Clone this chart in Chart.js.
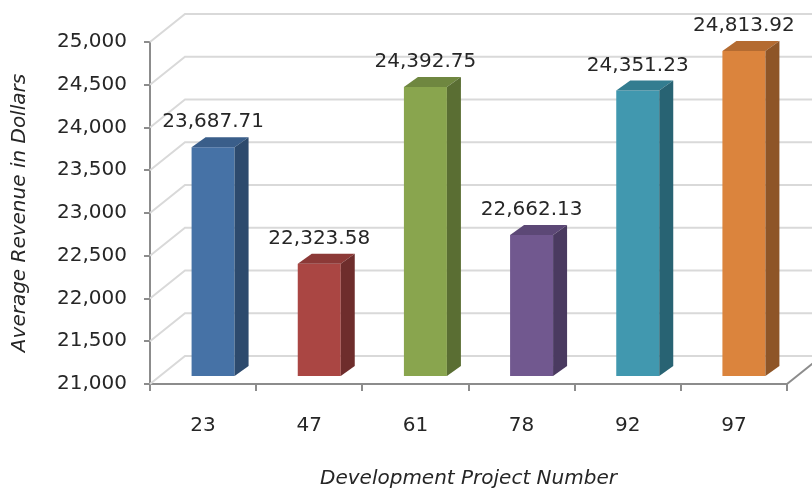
<!DOCTYPE html>
<html>
<head>
<meta charset="utf-8">
<script src="https://cdn.jsdelivr.net/npm/chart.js@4/dist/chart.umd.min.js"></script>
<style>
  html, body { margin: 0; padding: 0; background: #ffffff; }
  #c { display: block; }
</style>
</head>
<body>
<canvas id="c" width="812" height="489"></canvas>
<script>
// Development projects and their average revenue
const projects = ['23', '47', '61', '78', '92', '97'];
const avgRevenue = [23687.71, 22323.58, 24392.75, 22662.13, 24351.23, 24813.92];
const yMin = 21000;
const yMax = 25000;
const yStep = 500;

// Face colours for each bar: front, top, side
const frontColors = ['#4672A6', '#AA4643', '#89A54E', '#71588F', '#4198AF', '#DB843D'];
const topColors   = ['#3A5E8A', '#8C3937', '#6F8740', '#5C4876', '#337D90', '#B46B31'];
const sideColors  = ['#2D4A6D', '#6E2D2C', '#5A6E33', '#4A3A60', '#286373', '#8E5527'];

// 3D geometry
const WALL_DX = 35, WALL_DY = 28;        // depth of the back wall
const BAR_SHIFT_X = 10, BAR_SHIFT_Y = 7; // bars sit part-way into the depth
const BAR_DX = 14, BAR_DY = 10;          // bar depth

const FONT = "'DejaVu Sans', sans-serif";
const TEXT = '#262626';
const fmtTick = v => Number(v).toLocaleString('en-US');
const fmtValue = v => v.toLocaleString('en-US', { minimumFractionDigits: 2, maximumFractionDigits: 2 });

const threeD = {
  id: 'threeD',
  beforeDatasetsDraw(chart) {
    const { ctx, chartArea: a, scales: { y } } = chart;
    ctx.save();
    // back wall gridlines with their diagonal returns to the front axis
    ctx.strokeStyle = '#D9D9D9';
    ctx.lineWidth = 2;
    y.ticks.forEach(t => {
      const py = y.getPixelForValue(t.value);
      ctx.beginPath();
      ctx.moveTo(a.left, py);
      ctx.lineTo(a.left + WALL_DX, py - WALL_DY);
      ctx.lineTo(a.right + WALL_DX, py - WALL_DY);
      ctx.stroke();
    });
    // right edge of the floor
    ctx.strokeStyle = '#8C8C8C';
    ctx.beginPath();
    ctx.moveTo(a.right, a.bottom);
    ctx.lineTo(a.right + WALL_DX, a.bottom - WALL_DY);
    ctx.stroke();
    ctx.restore();
    // bars are drawn set back into the depth
    ctx.save();
    ctx.translate(BAR_SHIFT_X, -BAR_SHIFT_Y);
  },
  afterDatasetsDraw(chart) {
    const { ctx } = chart;
    const meta = chart.getDatasetMeta(0);
    meta.data.forEach((bar, i) => {
      const { x, y, base, width } = bar.getProps(['x', 'y', 'base', 'width'], true);
      const l = x - width / 2, r = x + width / 2;
      // top face
      ctx.fillStyle = topColors[i];
      ctx.beginPath();
      ctx.moveTo(l, y);
      ctx.lineTo(r, y);
      ctx.lineTo(r + BAR_DX, y - BAR_DY);
      ctx.lineTo(l + BAR_DX, y - BAR_DY);
      ctx.closePath();
      ctx.fill();
      // side face
      ctx.fillStyle = sideColors[i];
      ctx.beginPath();
      ctx.moveTo(r, y);
      ctx.lineTo(r + BAR_DX, y - BAR_DY);
      ctx.lineTo(r + BAR_DX, base - BAR_DY);
      ctx.lineTo(r, base);
      ctx.closePath();
      ctx.fill();
    });
    ctx.restore();
    // value labels above each bar
    ctx.save();
    ctx.font = '20px ' + FONT;
    ctx.fillStyle = TEXT;
    ctx.textAlign = 'center';
    ctx.textBaseline = 'middle';
    meta.data.forEach((bar, i) => {
      const { x, y } = bar.getProps(['x', 'y'], true);
      ctx.fillText(fmtValue(avgRevenue[i]), x + BAR_SHIFT_X, y - BAR_SHIFT_Y - 25);
    });
    ctx.restore();
  }
};

new Chart(document.getElementById('c'), {
  type: 'bar',
  data: {
    labels: projects,
    datasets: [{
      data: avgRevenue,
      base: yMin,
      backgroundColor: frontColors,
      borderWidth: 0,
      categoryPercentage: 1,
      barPercentage: 0.405,
      clip: false
    }]
  },
  options: {
    responsive: false,
    devicePixelRatio: 1,
    animation: false,
    layout: { padding: { top: 42, right: 25, left: 0, bottom: 0 } },
    plugins: { legend: { display: false }, tooltip: { enabled: false } },
    scales: {
      x: {
        grid: { offset: true, drawOnChartArea: false, drawTicks: true, tickLength: 7, color: '#8C8C8C', lineWidth: 2 },
        border: { display: true, color: '#8C8C8C', width: 2 },
        ticks: { color: TEXT, font: { family: FONT, size: 20 }, padding: 23 },
        title: {
          display: true,
          text: 'Development Project Number',
          color: TEXT,
          font: { family: FONT, size: 20, style: 'italic', lineHeight: 1.05 },
          padding: { top: 0, bottom: 0 }
        },
        afterFit(s) { s.height = 105; }
      },
      y: {
        min: yMin,
        max: yMax,
        grid: { drawOnChartArea: false, drawTicks: true, tickLength: 6, color: '#8C8C8C', lineWidth: 2 },
        border: { display: true, color: '#8C8C8C', width: 2 },
        ticks: {
          stepSize: yStep,
          color: TEXT,
          font: { family: FONT, size: 20 },
          padding: 17,
          callback: v => fmtTick(v)
        },
        title: {
          display: true,
          text: 'Average Revenue in Dollars',
          color: TEXT,
          font: { family: FONT, size: 20, style: 'italic' },
          padding: { top: 8, bottom: 0 }
        },
        afterFit(s) { s.width = 150; }
      }
    }
  },
  plugins: [threeD]
});
</script>
</body>
</html>
